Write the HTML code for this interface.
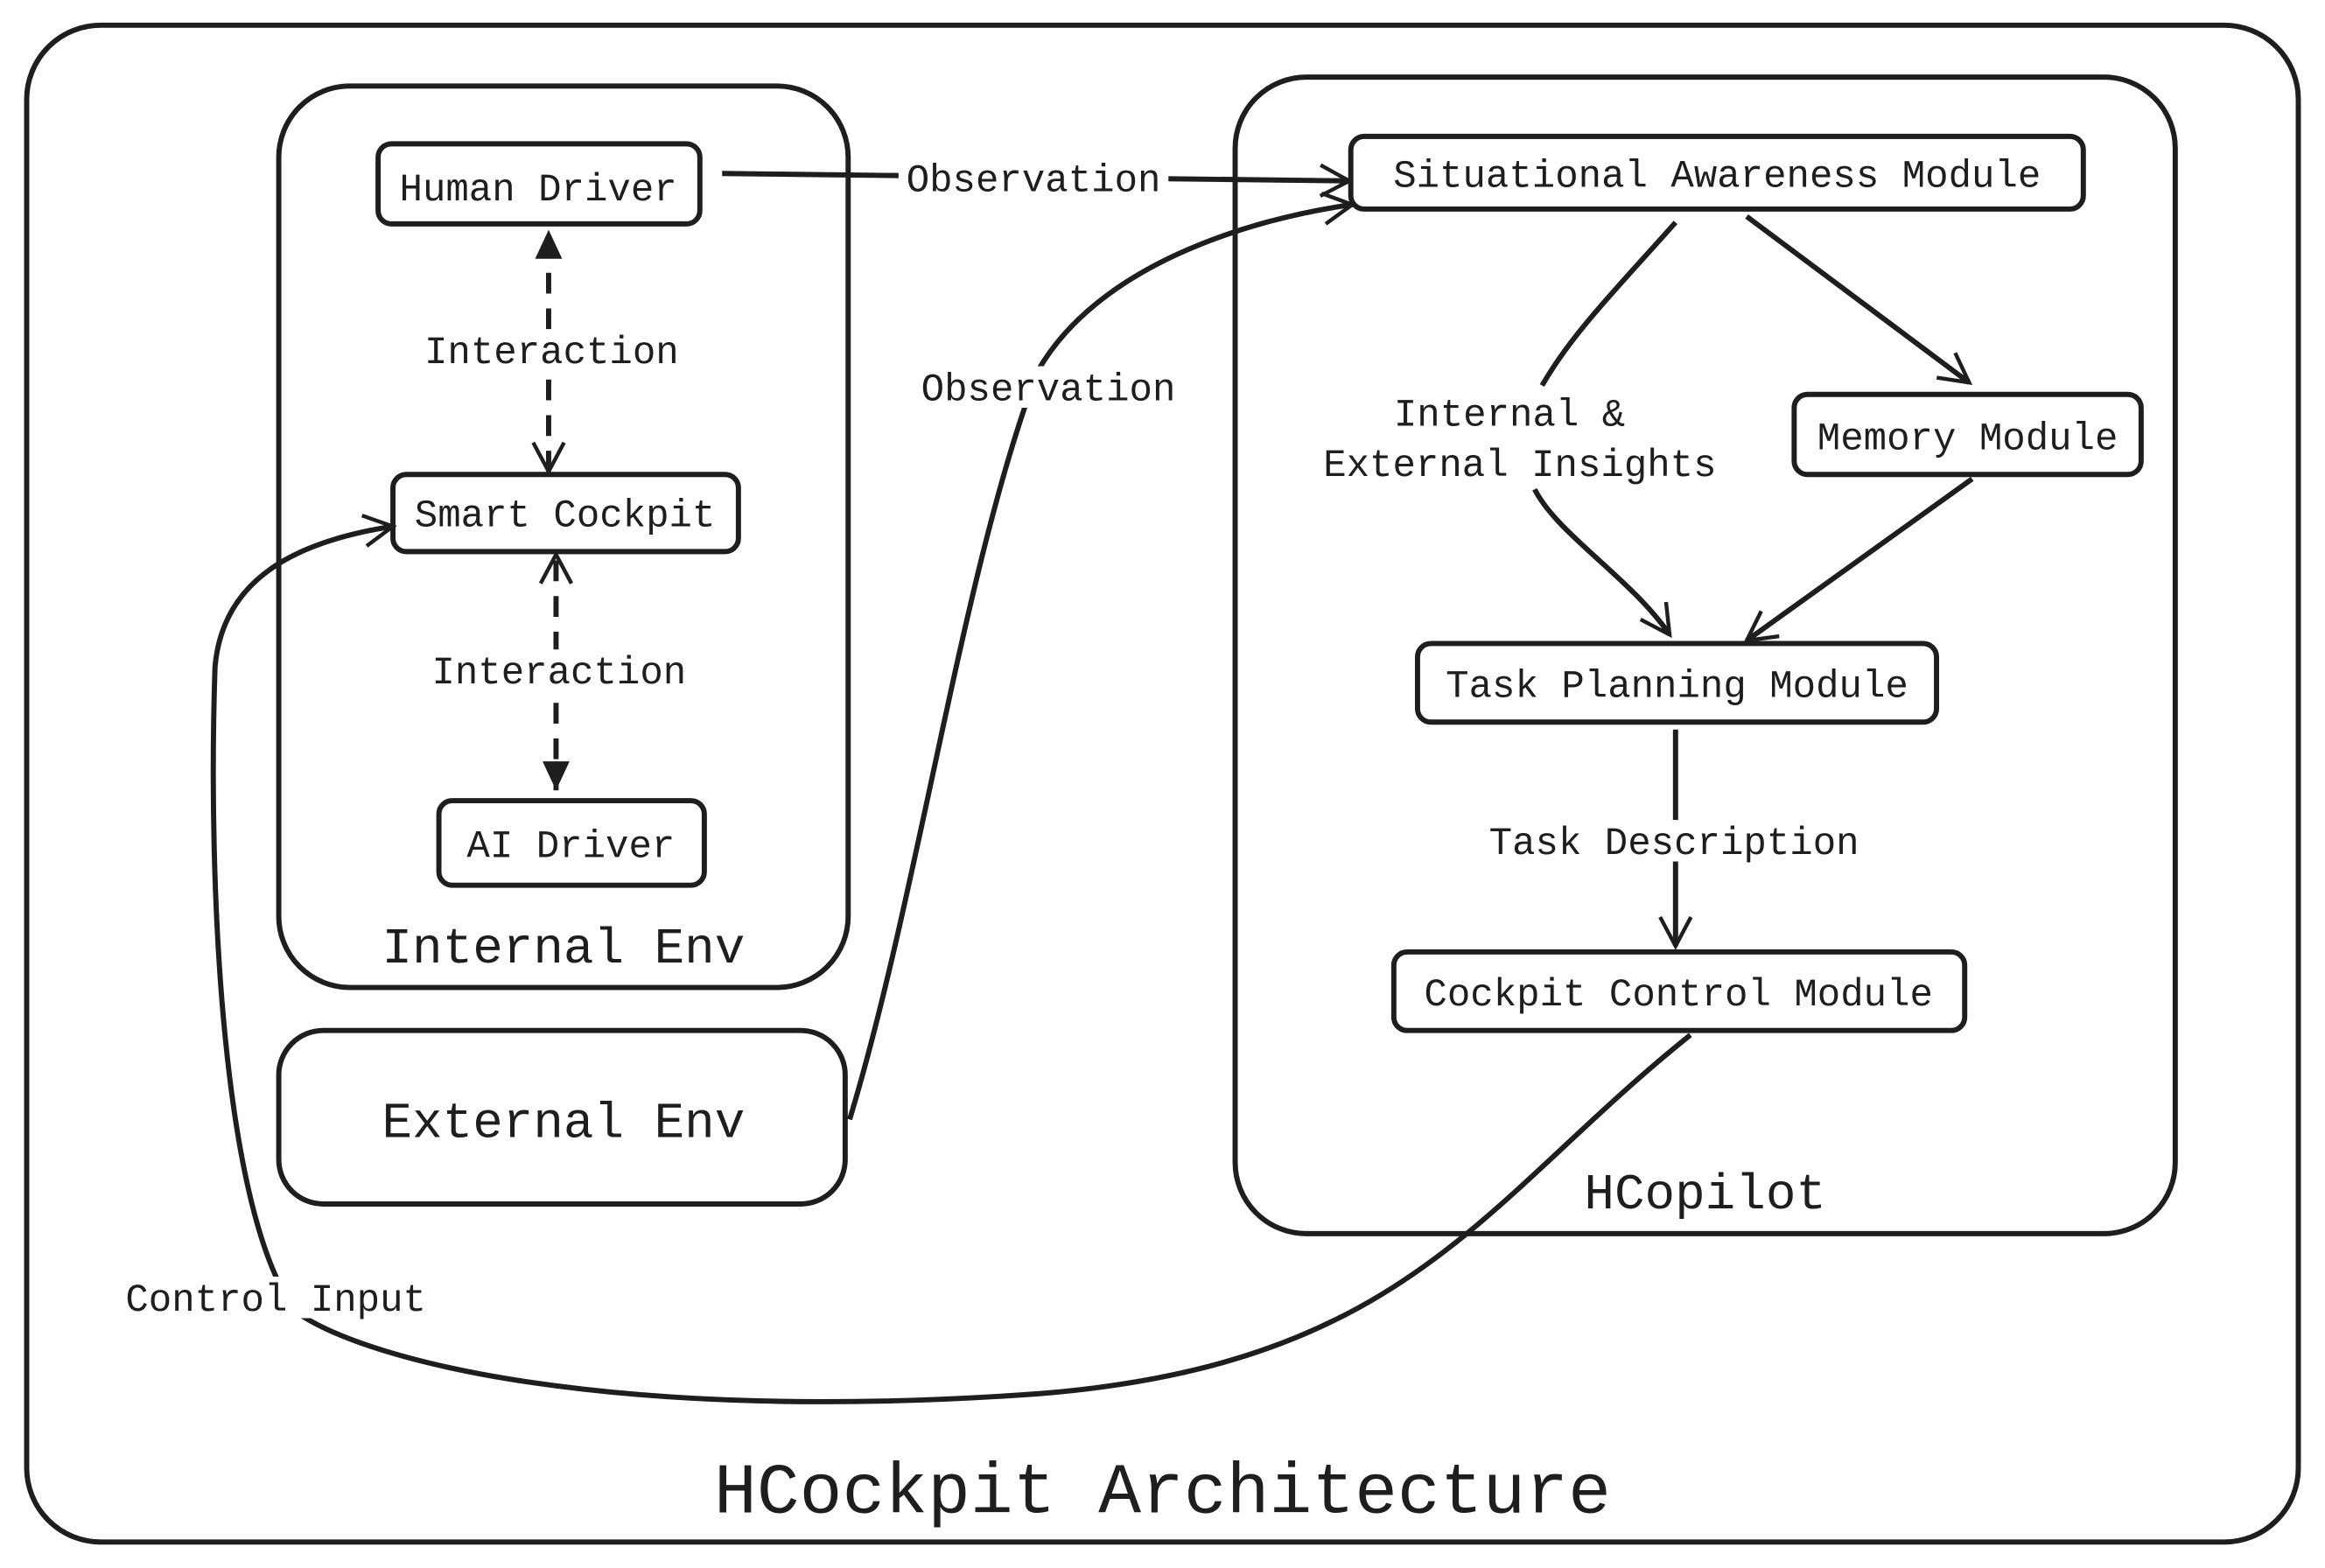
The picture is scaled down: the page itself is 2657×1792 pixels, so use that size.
<!DOCTYPE html>
<html><head><meta charset="utf-8"><style>
html,body{margin:0;padding:0;background:#fff;width:2657px;height:1792px;overflow:hidden}
svg{display:block}
text{font-family:"Liberation Mono","DejaVu Sans Mono",monospace;fill:#1e1e1e}
</style></head><body>
<svg width="2657" height="1792" viewBox="0 0 1568 1057.5" preserveAspectRatio="none" xmlns="http://www.w3.org/2000/svg">
<defs>
<marker id="oa" viewBox="0 0 20 20" refX="18" refY="10" markerWidth="26" markerHeight="26" orient="auto" markerUnits="userSpaceOnUse">
<path d="M3,2 L18,10 L3,18" fill="none" stroke="#1e1e1e" stroke-width="2"/></marker>
<marker id="fa" viewBox="0 0 20 20" refX="18" refY="10" markerWidth="26" markerHeight="26" orient="auto" markerUnits="userSpaceOnUse">
<path d="M3,3 L18,10 L3,17 Z" fill="#1e1e1e"/></marker>
</defs>
<g fill="none" stroke="#1e1e1e" stroke-width="3.5">
<rect x="18" y="17" width="1532" height="1023" rx="50"/>
<rect x="188" y="58" width="384" height="608" rx="48"/>
<rect x="188" y="695" width="382" height="117" rx="30"/>
<rect x="833" y="52" width="634" height="780" rx="48"/>
<rect x="255" y="97" width="217" height="54" rx="9"/>
<rect x="265" y="320" width="233" height="52" rx="9"/>
<rect x="296" y="540" width="179" height="57" rx="9"/>
<rect x="911" y="92" width="494" height="49" rx="9"/>
<rect x="1210" y="266" width="234" height="54" rx="9"/>
<rect x="956" y="434" width="350" height="53" rx="9"/>
<rect x="940" y="642" width="385" height="53" rx="9"/>
<path d="M487,117 L910,122" marker-end="url(#oa)"/>
<path d="M573,755 C620,600 650,380 700,250 C740,180 840,148 912,138" marker-end="url(#oa)"/>
<path d="M370,318 L370,155" stroke-dasharray="14,10" marker-end="url(#fa)"/>
<path d="M370,170 L370,318" stroke="none" marker-end="url(#oa)"/>
<path d="M375,378 L375,533" stroke-dasharray="14,10" marker-end="url(#fa)"/>
<path d="M375,520 L375,374" stroke="none" marker-end="url(#oa)"/>
<path d="M1130,150 C1090,195 1060,225 1040,260"/>
<path d="M1035,330 C1050,360 1100,390 1126,428" marker-end="url(#oa)"/>
<path d="M1178,146 L1328,258" marker-end="url(#oa)"/>
<path d="M1330,323 L1178,432" marker-end="url(#oa)"/>
<path d="M1130,492 L1130,638" marker-end="url(#oa)"/>
<path d="M1140,698 C1000,810 950,920 700,940 C420,960 250,920 200,885 C150,820 140,600 145,450 C150,390 200,365 265,355" marker-end="url(#oa)"/>
</g>
<g fill="#fff">
<rect x="606" y="106" width="182" height="28"/>
<rect x="616" y="247" width="182" height="28"/>
<rect x="280" y="222" width="184" height="28"/>
<rect x="286" y="438" width="184" height="28"/>
<rect x="996" y="553" width="266" height="28"/>
<rect x="78" y="861" width="216" height="28"/>
</g>
<g font-size="26" text-anchor="middle">
<text x="363" y="135">Human Driver</text>
<text x="381" y="355">Smart Cockpit</text>
<text x="385" y="578">AI Driver</text>
<text x="1158" y="126">Situational Awareness Module</text>
<text x="1327" y="303">Memory Module</text>
<text x="1131" y="470">Task Planning Module</text>
<text x="1132" y="678">Cockpit Control Module</text>
<text x="697" y="129">Observation</text>
<text x="707" y="270">Observation</text>
<text x="372" y="245">Interaction</text>
<text x="377" y="461">Interaction</text>
<text x="1018" y="287">Internal &amp;</text>
<text x="1025" y="321">External Insights</text>
<text x="1129" y="576">Task Description</text>
<text x="186" y="884">Control Input</text>
</g>
<g font-size="34" text-anchor="middle">
<text x="380" y="649">Internal Env</text>
<text x="380" y="767">External Env</text>
<text x="1150" y="815">HCopilot</text>
</g>
<text x="784" y="1020" font-size="48" text-anchor="middle">HCockpit Architecture</text>
</svg>
</body></html>
